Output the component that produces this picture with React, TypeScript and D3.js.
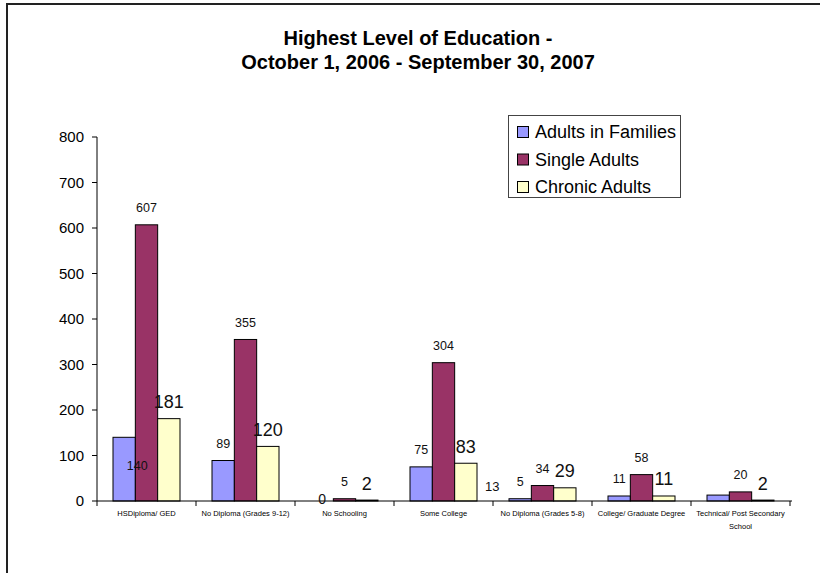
import React from "react";
import * as d3 from "d3";

const categories = [
  "HSDiploma/ GED",
  "No Diploma (Grades 9-12)",
  "No Schooling",
  "Some College",
  "No Diploma (Grades 5-8)",
  "College/ Graduate Degree",
  "Technical/ Post Secondary School",
];
const seriesNames = ["Adults in Families", "Single Adults", "Chronic Adults"];
const adultsInFamilies = [140, 89, 0, 75, 5, 11, 13];
const singleAdults = [607, 355, 5, 304, 34, 58, 20];
const chronicAdults = [181, 120, 2, 83, 29, 11, 2];
const yTicks = [0, 100, 200, 300, 400, 500, 600, 700, 800];

const colors = ["#9999FF", "#993366", "#FFFFCC"];
const labelFont = [12.5, 12.5, 18];
const labelOverrides: Record<string, { dx: number; base?: number; size?: number }> = {
  "0-0": { dx: 13, base: -36 },
  "0-2": { dx: 0, base: -2, size: 14 },
  "0-6": { dx: -226, base: -15, size: 13 },
};

export default function App() {
  const W = 820, H = 573;
  const x0 = 97, x1 = 790, yBase = 501, yTop = 137;
  const x = d3.scaleBand<string>().domain(categories).range([x0, x1]).paddingInner(0).paddingOuter(0);
  const y = d3.scaleLinear().domain([0, 800]).range([yBase, yTop]);
  const groupW = 67;
  const xs = d3.scaleBand<number>().domain([0, 1, 2]).range([0, groupW]);
  const data = [adultsInFamilies, singleAdults, chronicAdults];
  const font = "Arial, 'Liberation Sans', sans-serif";

  return (
    <svg width={W} height={H} style={{ position: "absolute", left: 0, top: 0 }} fontFamily={font}>
      <rect x={0} y={0} width={W} height={H} fill="#fff" />
      <path d={`M7,${H + 2} V4 H${W + 2}`} fill="none" stroke="#222" strokeWidth={2} />
      <text x={418} y={45} textAnchor="middle" fontWeight="bold" fontSize={20}>Highest Level of Education -</text>
      <text x={418} y={69} textAnchor="middle" fontWeight="bold" fontSize={20}>October 1, 2006 - September 30, 2007</text>

      {/* y axis */}
      <line x1={x0} x2={x0} y1={yTop} y2={yBase} stroke="#000" />
      {yTicks.map((t) => (
        <g key={t}>
          <line x1={x0 - 5} x2={x0} y1={y(t)} y2={y(t)} stroke="#000" />
          <text x={84} y={y(t) + 5} textAnchor="end" fontSize={15}>{t}</text>
        </g>
      ))}

      {/* bars */}
      {data.map((vals, s) =>
        vals.map((v, i) => {
          const bx = (x(categories[i]) as number) + (x.bandwidth() - groupW) / 2 + (xs(s) as number);
          return (
            <rect key={`${s}-${i}`} x={bx} y={y(v)} width={xs.bandwidth()} height={yBase - y(v)}
              fill={colors[s]} stroke="#000" strokeWidth={1} />
          );
        })
      )}

      {/* x axis */}
      <line x1={x0} x2={x1 + 2} y1={yBase} y2={yBase} stroke="#000" />
      {categories.map((c) => (
        <line key={c} x1={x(c) as number} x2={x(c) as number} y1={yBase} y2={yBase + 5} stroke="#000" />
      ))}
      <line x1={x1} x2={x1} y1={yBase} y2={yBase + 5} stroke="#000" />

      {/* category labels */}
      {categories.map((c) => {
        const cx = (x(c) as number) + x.bandwidth() / 2;
        if (c === "Technical/ Post Secondary School") {
          return (
            <g key={c}>
              <text x={cx} y={516} textAnchor="middle" fontSize={7.5} fill="#000">Technical/ Post Secondary</text>
              <text x={cx} y={529} textAnchor="middle" fontSize={7.5} fill="#000">School</text>
            </g>
          );
        }
        return (
          <text key={c} x={cx} y={516} textAnchor="middle" fontSize={7.5} fill="#000">{c}</text>
        );
      })}

      {/* data labels */}
      {data.map((vals, s) =>
        vals.map((v, i) => {
          const bx = (x(categories[i]) as number) + (x.bandwidth() - groupW) / 2 + (xs(s) as number) + xs.bandwidth() / 2;
          const ov = labelOverrides[`${s}-${i}`];
          const size = ov?.size ?? labelFont[s];
          const cx = bx + (ov?.dx ?? 0);
          const cy = ov?.base !== undefined ? yBase + ov.base : y(v) - 17;
          return (
            <text key={`l${s}-${i}`} x={cx} y={cy + size * 0.36} textAnchor="middle" fontSize={size} fill="#111">{v}</text>
          );
        })
      )}

      {/* legend */}
      <rect x={508.5} y={115.5} width={172} height={82} fill="#fff" stroke="#444" />
      {seriesNames.map((n, i) => (
        <g key={n}>
          <rect x={517.5} y={126.5 + i * 27.5} width={11} height={11} fill={colors[i]} stroke="#000" />
          <text x={535} y={138 + i * 27.5} fontSize={18}>{n}</text>
        </g>
      ))}
    </svg>
  );
}
